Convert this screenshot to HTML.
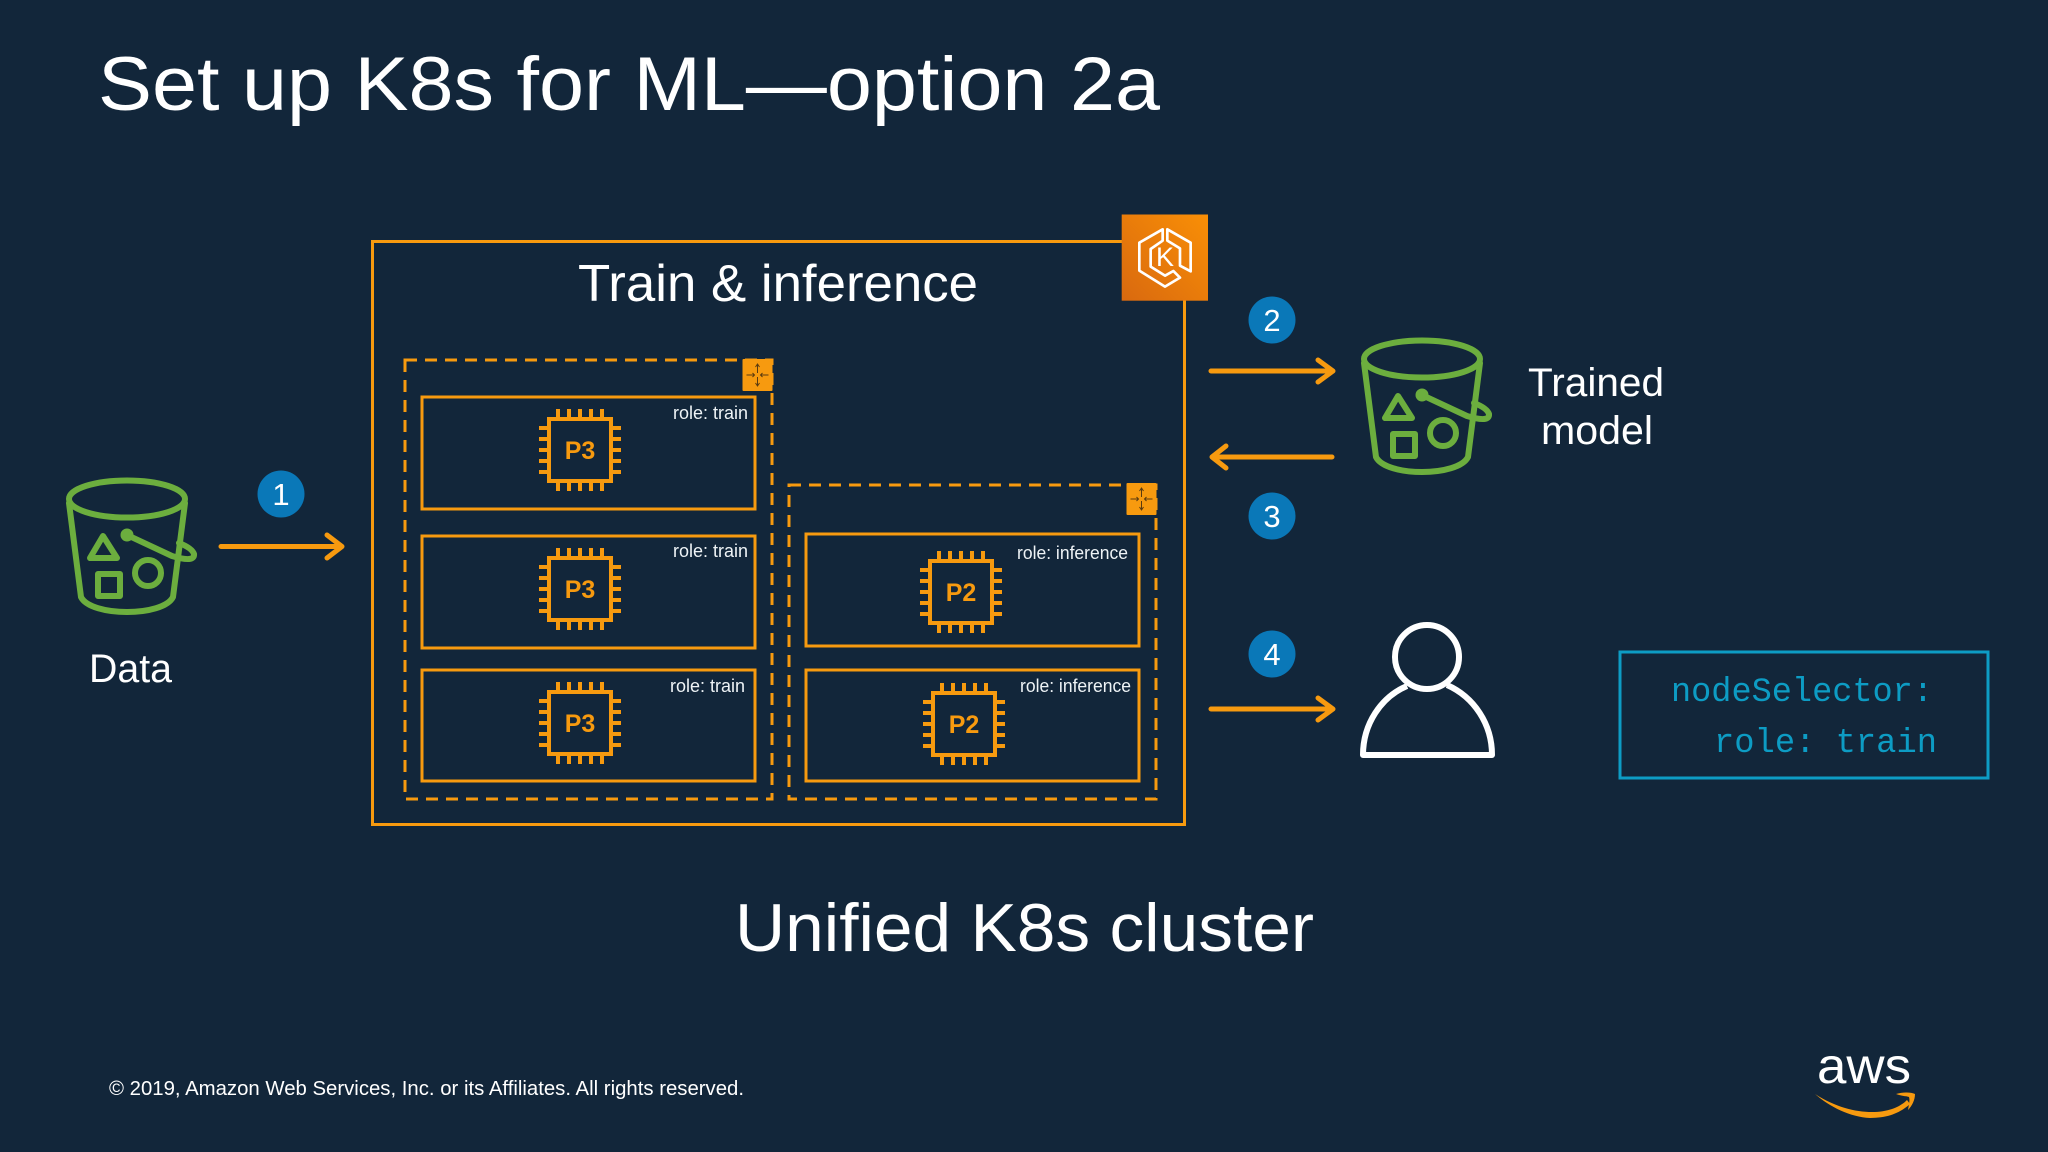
<!DOCTYPE html>
<html><head><meta charset="utf-8"><style>
html,body{margin:0;padding:0;background:#12263a;width:2048px;height:1152px;overflow:hidden}
svg{display:block}
text{font-family:"Liberation Sans",sans-serif;fill:#fff}
.o{stroke:#f79a0f;fill:none;stroke-width:3}
.d{stroke:#f79a0f;fill:none;stroke-width:3;stroke-dasharray:12 8}
.g{stroke:#6cae3e;fill:none;stroke-width:6;stroke-linejoin:round;stroke-linecap:round}
.a{stroke:#f79a0f;fill:none;stroke-width:5;stroke-linecap:round;stroke-linejoin:round}
.r{font-size:18px;fill:#eef3f6}
.n{font-size:31px}
.c{font-family:"Liberation Mono",monospace;font-size:34px;fill:#0d9cc4}
.p{font-weight:bold;font-size:25px;fill:#f79a0f}
</style></head><body>
<svg width="2048" height="1152" viewBox="0 0 2048 1152" xmlns="http://www.w3.org/2000/svg">
<defs>
<linearGradient id="eks" x1="0" y1="1" x2="1" y2="0"><stop offset="0" stop-color="#d9690f"/><stop offset="1" stop-color="#f98f06"/></linearGradient>
<g id="chip" fill="none" stroke="#f79a0f" stroke-width="4">
<rect x="-31" y="-31" width="62" height="62"/>
<path d="M-22 -41V-31M-11 -41V-31M0 -41V-31M11 -41V-31M22 -41V-31M-22 41V31M-11 41V31M0 41V31M11 41V31M22 41V31M-41 -22H-31M-41 -11H-31M-41 0H-31M-41 11H-31M-41 22H-31M41 -22H31M41 -11H31M41 0H31M41 11H31M41 22H31"/>
</g>
<g id="bucket" class="g">
<ellipse cx="0" cy="0" rx="58" ry="18.5"/>
<path d="M-58 4L-46 98C-36 118 36 118 46 98L58 4"/>
<path d="M-24 37L-37 59H-10Z"/>
<rect x="-29" y="75" width="22" height="22"/>
<circle cx="21" cy="74" r="13"/>
<circle cx="0" cy="36" r="3.5"/>
<path d="M0 36L45 57Q68 64 67 55Q65 49 52 44"/>
</g>
<g id="tag">
<rect x="-15" y="-16" width="30" height="32" fill="#f79a0f" rx="1"/>
<path d="M0 -10V-2M0 2V10M-11 0H-3M3 0H11M-2 -8L0 -11L2 -8M-2 8L0 11L2 8M-5 -2L-3 0L-5 2M5 -2L3 0L5 2" fill="none" stroke="#5a3b10" stroke-width="1"/>
</g>
</defs>
<rect width="2048" height="1152" fill="#12263a"/>

<text x="98" y="110" font-size="76" textLength="1062" lengthAdjust="spacingAndGlyphs">Set up K8s for ML—option 2a</text>

<rect class="o" x="372.5" y="241.5" width="812" height="583"/>
<text x="578" y="301" font-size="52" textLength="400" lengthAdjust="spacingAndGlyphs">Train &amp; inference</text>
<text x="735" y="951" font-size="68" textLength="579" lengthAdjust="spacingAndGlyphs">Unified K8s cluster</text>

<rect x="1121.7" y="214.5" width="86.3" height="86.2" fill="url(#eks)"/>
<g transform="translate(1080 200) scale(.3333)" fill="none" stroke="#fff" stroke-width="8" stroke-linejoin="round">
<path d="M248 88L178 128V212L255 260L300 233L280 213L255 227L212 200V147L248 122Z"/>
<path d="M262 88V122L300 145V197L332 214V128Z"/>
</g>
<text x="1165" y="266" font-size="27" text-anchor="middle">K</text>

<rect class="d" x="405" y="360" width="367" height="439"/>
<use href="#tag" x="757.5" y="375"/>
<rect class="o" x="422" y="397" width="333" height="112"/>
<rect class="o" x="422" y="536" width="333" height="112"/>
<rect class="o" x="422" y="670" width="333" height="111"/>
<use href="#chip" x="580" y="450"/><text class="p" x="580" y="459" text-anchor="middle">P3</text>
<use href="#chip" x="580" y="589"/><text class="p" x="580" y="598" text-anchor="middle">P3</text>
<use href="#chip" x="580" y="723"/><text class="p" x="580" y="732" text-anchor="middle">P3</text>
<text class="r" x="673" y="419" textLength="75" lengthAdjust="spacingAndGlyphs">role: train</text>
<text class="r" x="673" y="557" textLength="75" lengthAdjust="spacingAndGlyphs">role: train</text>
<text class="r" x="670" y="692" textLength="75" lengthAdjust="spacingAndGlyphs">role: train</text>

<rect class="d" x="789" y="485" width="367" height="314"/>
<use href="#tag" x="1141.5" y="499"/>
<rect class="o" x="806" y="534" width="333" height="112"/>
<rect class="o" x="806" y="670" width="333" height="111"/>
<use href="#chip" x="961" y="592"/><text class="p" x="961" y="601" text-anchor="middle">P2</text>
<use href="#chip" x="964" y="724"/><text class="p" x="964" y="733" text-anchor="middle">P2</text>
<text class="r" x="1017" y="559" textLength="111" lengthAdjust="spacingAndGlyphs">role: inference</text>
<text class="r" x="1020" y="692" textLength="111" lengthAdjust="spacingAndGlyphs">role: inference</text>

<use href="#bucket" x="127" y="499"/>
<text x="89" y="682" font-size="40" textLength="83" lengthAdjust="spacingAndGlyphs">Data</text>
<use href="#bucket" x="1422" y="359"/>
<text x="1528" y="396" font-size="40" textLength="136" lengthAdjust="spacingAndGlyphs">Trained</text>
<text x="1541" y="444" font-size="40" textLength="112" lengthAdjust="spacingAndGlyphs">model</text>

<path class="a" d="M221 546.5H341M327 535L342 546.5L327 558"/>
<path class="a" d="M1211 371H1332M1318 360L1333 371L1318 382"/>
<path class="a" d="M1332 457H1213M1226 446L1212 457L1226 468"/>
<path class="a" d="M1211 709H1332M1318 698L1333 709L1318 720"/>

<g fill="#0a78b8">
<circle cx="281" cy="494" r="23.5"/><circle cx="1272" cy="320" r="23.5"/><circle cx="1272" cy="516" r="23.5"/><circle cx="1272" cy="654" r="23.5"/>
</g>
<text class="n" x="281" y="505" text-anchor="middle">1</text>
<text class="n" x="1272" y="331" text-anchor="middle">2</text>
<text class="n" x="1272" y="527" text-anchor="middle">3</text>
<text class="n" x="1272" y="665" text-anchor="middle">4</text>

<g fill="none" stroke="#fff" stroke-width="6" stroke-linejoin="round">
<ellipse cx="1427" cy="657" rx="32" ry="32"/>
<path d="M1407 686C1381 697 1363 724 1363 755H1492C1492 724 1474 697 1447 685"/>
</g>

<rect x="1620" y="652" width="368" height="126" fill="none" stroke="#0d9cc4" stroke-width="3"/>
<text class="c" x="1671" y="701" textLength="262" lengthAdjust="spacingAndGlyphs">nodeSelector:</text>
<text class="c" x="1714" y="752" textLength="223" lengthAdjust="spacingAndGlyphs">role: train</text>

<text x="109" y="1095" font-size="20" fill="#e8edf0" textLength="635" lengthAdjust="spacingAndGlyphs">© 2019, Amazon Web Services, Inc. or its Affiliates. All rights reserved.</text>

<text x="1817" y="1083" font-size="50" textLength="94" lengthAdjust="spacingAndGlyphs">aws</text>
<path d="M1815 1094C1835 1107 1855 1112 1872 1112C1888 1112 1900 1107 1907 1100L1910 1104C1900 1113 1888 1118 1870 1118C1850 1117 1830 1107 1815 1094Z" fill="#f79a0f"/>
<path d="M1896 1094C1903 1092 1911 1092 1915 1094C1915 1100 1912 1106 1908 1110C1909 1104 1910 1100 1909 1097C1906 1096 1901 1096 1896 1094Z" fill="#f79a0f"/>
</svg>
</body></html>
